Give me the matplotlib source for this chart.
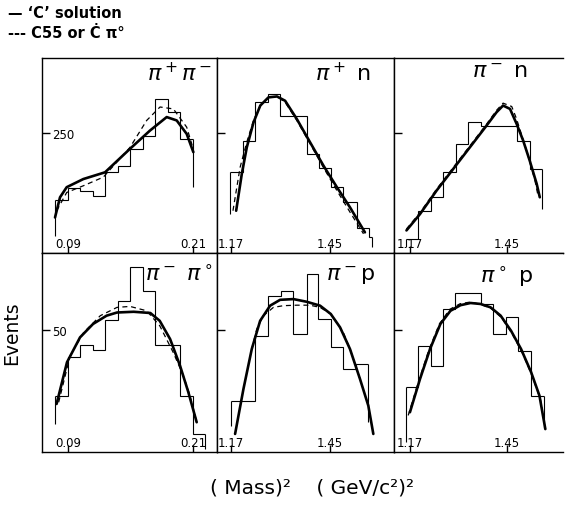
import numpy as np
from matplotlib import pyplot as plt

plt.rcParams["font.family"] = "DejaVu Sans"
plt.rcParams["mathtext.fontset"] = "dejavusans"

# pi+ pi-
pipm_edges = [0.0775, 0.0895, 0.1015, 0.1135, 0.1255, 0.1375, 0.1495,
              0.1615, 0.1735, 0.1855, 0.1975, 0.2095]
pipm_counts = [111, 135, 130, 119, 168, 182, 217, 244, 321, 293, 238]
pipm_ends = [36, 137]
pipm_solid_x = [0.0775, 0.0823, 0.0887, 0.1047, 0.1255, 0.1495, 0.1687,
                0.1847, 0.1943, 0.2039, 0.2103]
pipm_solid_y = [74, 116, 137, 154, 168, 217, 255, 283, 276, 248, 210]
pipm_dash_x = [0.0791, 0.0887, 0.1047, 0.1239, 0.1495, 0.1655, 0.1783,
               0.1911, 0.2039, 0.2103]
pipm_dash_y = [88, 126, 140, 158, 220, 276, 304, 300, 262, 216]

# pi+ n
pipn_edges = [1.168, 1.204, 1.239, 1.274, 1.310, 1.347, 1.385, 1.418,
              1.451, 1.487, 1.525, 1.560, 1.569]
pipn_counts = [168, 234, 314, 331, 286, 286, 206, 178, 137, 106, 53, 33]
pipn_ends = [81, 12]
pipn_solid_x = [1.185, 1.201, 1.215, 1.234, 1.253, 1.276, 1.300, 1.323,
                1.356, 1.393, 1.431, 1.469, 1.506, 1.548]
pipn_solid_y = [88, 165, 220, 272, 307, 324, 326, 317, 279, 231, 182, 137, 95, 43]
pipn_dash_x = [1.176, 1.196, 1.215, 1.234, 1.253, 1.276, 1.300, 1.323,
               1.356, 1.393, 1.431, 1.469, 1.506, 1.544]
pipn_dash_y = [88, 178, 231, 276, 307, 323, 326, 314, 276, 228, 178, 130, 85, 40]

# pi- n
pimn_edges = [1.158, 1.194, 1.230, 1.266, 1.303, 1.338, 1.374, 1.410,
              1.444, 1.480, 1.516, 1.552]
pimn_counts = [29, 88, 116, 168, 227, 272, 265, 265, 265, 234, 175]
pimn_ends = [12, 92]
pimn_solid_x = [1.160, 1.199, 1.247, 1.295, 1.343, 1.391, 1.420, 1.439,
                1.459, 1.478, 1.497, 1.516, 1.536, 1.545]
pimn_solid_y = [47, 81, 130, 175, 220, 265, 293, 307, 300, 269, 234, 192, 144, 116]
pimn_dash_x = [1.160, 1.199, 1.247, 1.295, 1.343, 1.391, 1.420, 1.439,
               1.464, 1.478, 1.507, 1.531, 1.540]
pimn_dash_y = [50, 84, 133, 178, 223, 268, 297, 312, 305, 279, 213, 151, 119]

# pi- pi0
pimz_edges = [0.0775, 0.0895, 0.1015, 0.1135, 0.1255, 0.1375, 0.1495,
              0.1615, 0.1735, 0.1855, 0.1975, 0.2095, 0.2215]
pimz_counts = [23, 39, 44, 42, 54, 62, 76, 66, 44, 44, 23, 7.4]
pimz_ends = [11.5, 1.2]
pimz_solid_x = [0.079, 0.089, 0.1015, 0.114, 0.127, 0.137, 0.153, 0.169,
                0.178, 0.188, 0.1975, 0.2055, 0.2135]
pimz_solid_y = [19.7, 36.8, 47, 52.5, 55.9, 57.2, 57.5, 57, 53.8, 46.3, 35.4, 24.5, 12.2]
pimz_dash_x = [0.081, 0.092, 0.105, 0.121, 0.137, 0.1495, 0.1655, 0.178,
               0.191, 0.2007, 0.2071, 0.2135]
pimz_dash_y = [20.4, 39.5, 49, 55.9, 59.3, 59.7, 57.9, 51.8, 40.8, 31.3, 23.1, 12.2]

# pi- p
pimp_edges = [1.170, 1.2055, 1.2385, 1.276, 1.3108, 1.3464, 1.384, 1.4168,
              1.4517, 1.4872, 1.5221, 1.5576]
pimp_counts = [21, 21, 47.7, 64, 66, 48.4, 73, 54.5, 42.9, 34, 36]
pimp_ends = [10.8, 12.2]
pimp_solid_x = [1.182, 1.2055, 1.229, 1.2526, 1.2807, 1.3089, 1.3464, 1.384,
                1.4216, 1.4517, 1.478, 1.506, 1.5342, 1.5576, 1.5717]
pimp_solid_y = [7.4, 25.8, 42.2, 53.8, 60, 62.4, 62.7, 61.6, 60, 56.6, 51.1,
                42.2, 29.9, 19, 7.4]
pimp_dash_x = [1.229, 1.243, 1.2618, 1.29, 1.318, 1.356, 1.393, 1.4216,
               1.4517, 1.4872, 1.506, 1.5342]
pimp_dash_y = [42.2, 50.4, 55.9, 59.3, 60, 60.2, 60.2, 59.3, 56.6, 49, 42.2, 29.9]

# pi0 p
pizp_edges = [1.158, 1.194, 1.230, 1.265, 1.301, 1.337, 1.374, 1.411,
              1.447, 1.483, 1.520, 1.556]
pizp_counts = [26.5, 43.6, 35.4, 58.6, 65.4, 65.4, 60.7, 48.4, 55.2, 41.5, 23.1]
pizp_ends = [4, 10]
pizp_solid_x = [1.170, 1.199, 1.228, 1.258, 1.287, 1.316, 1.345, 1.374,
                1.403, 1.432, 1.462, 1.491, 1.520, 1.544, 1.561]
pizp_solid_y = [16.3, 29.9, 42.2, 52.5, 57.9, 60.2, 61.1, 60.7, 59.3, 55.9,
                49.7, 42.2, 32.7, 23.1, 9.4]
pizp_dash_x = [1.165, 1.195, 1.225, 1.255, 1.285, 1.315, 1.345, 1.375,
               1.405, 1.435, 1.465, 1.495, 1.522, 1.547, 1.562]
pizp_dash_y = [15, 29, 42, 52.5, 58.5, 60.8, 61.5, 60.5, 58.8, 55, 48.5,
               40.5, 31.5, 21.5, 8.5]

names = [r"$\pi^+\pi^-$", r"$\pi^+\ \mathrm{n}$", r"$\pi^-\ \mathrm{n}$",
         r"$\pi^-\ \pi^\circ$", r"$\pi^-\mathrm{p}$", r"$\pi^\circ\ \mathrm{p}$"]
xticks_light = [0.09, 0.21]
xticks_heavy = [1.17, 1.45]
ytick_top = 250
ytick_bottom = 50

panels = [
    (pipm_edges, pipm_counts, pipm_ends, pipm_solid_x, pipm_solid_y, pipm_dash_x, pipm_dash_y),
    (pipn_edges, pipn_counts, pipn_ends, pipn_solid_x, pipn_solid_y, pipn_dash_x, pipn_dash_y),
    (pimn_edges, pimn_counts, pimn_ends, pimn_solid_x, pimn_solid_y, pimn_dash_x, pimn_dash_y),
    (pimz_edges, pimz_counts, pimz_ends, pimz_solid_x, pimz_solid_y, pimz_dash_x, pimz_dash_y),
    (pimp_edges, pimp_counts, pimp_ends, pimp_solid_x, pimp_solid_y, pimp_dash_x, pimp_dash_y),
    (pizp_edges, pizp_counts, pizp_ends, pizp_solid_x, pizp_solid_y, pizp_dash_x, pizp_dash_y),
]

W, H = 566, 506
cols = [(42, 217), (217, 394), (394, 563)]
rows = [(59, 254), (254, 453)]
xlims = [(0.065, 0.233), (1.131, 1.630), (1.124, 1.612)]
ylims = [(0, 406), (0, 81.6)]
name_pos = [(0.97, 0.985), (0.87, 0.985), (0.79, 0.985),
            (0.975, 0.95), (0.89, 0.95), (0.82, 0.95)]

fig = plt.figure(figsize=(W / 100, H / 100), dpi=100)

for i, (edges, counts, ends, sx, sy, dx, dy) in enumerate(panels):
    r, c = divmod(i, 3)
    left, right = cols[c]
    top, bottom = rows[r]
    ax = fig.add_axes([left / W, 1 - bottom / H, (right - left) / W, (bottom - top) / H])

    ax.stairs(counts, edges, baseline=None, color="k", lw=0.8)
    ax.vlines([edges[0], edges[-1]], ends, [counts[0], counts[-1]], color="k", lw=0.8)
    ax.plot(sx, sy, color="k", lw=1.9, solid_capstyle="round", solid_joinstyle="round")
    ax.plot(dx, dy, color="k", lw=0.9, ls=(0, (4, 3)))

    ax.set_xlim(*xlims[c])
    ax.set_ylim(*ylims[r])

    xt = xticks_light if c == 0 else xticks_heavy
    ax.set_xticks(xt)
    ax.set_xticklabels([f"{v:.2f}" for v in xt])
    ax.tick_params(axis="x", direction="in", length=5, width=1, pad=-11.5, labelsize=8.5)

    yt = ytick_top if r == 0 else ytick_bottom
    ax.set_yticks([yt])
    ax.tick_params(axis="y", direction="in", length=6, width=1, pad=-7, labelsize=8.5,
                   labelleft=(c == 0))
    if c == 0:
        plt.setp(ax.get_yticklabels(), ha="left")

    for s in ax.spines.values():
        s.set_linewidth(1.0)
    if c == 2:
        ax.spines["right"].set_visible(False)

    ax.text(name_pos[i][0], name_pos[i][1], names[i], transform=ax.transAxes,
            ha="right", va="top", fontsize=16)

fig.text(8 / W, 1 - 14 / H, "\u2014 \u2018C\u2019 solution", fontsize=10.5,
         fontweight="bold", va="center", ha="left")
fig.text(8 / W, 1 - 33 / H, "--- C55 or \u010a \u03c0\u00b0", fontsize=10.5,
         fontweight="bold", va="center", ha="left")

fig.text(12 / W, 1 - 333 / H, "Events", rotation=90, fontsize=13.5,
         va="center", ha="center")
fig.text(312 / W, 1 - 488 / H, "( Mass)\u00b2    ( GeV/c\u00b2)\u00b2", fontsize=14.5,
         va="center", ha="center")

fig.savefig("out.png", dpi=100)
